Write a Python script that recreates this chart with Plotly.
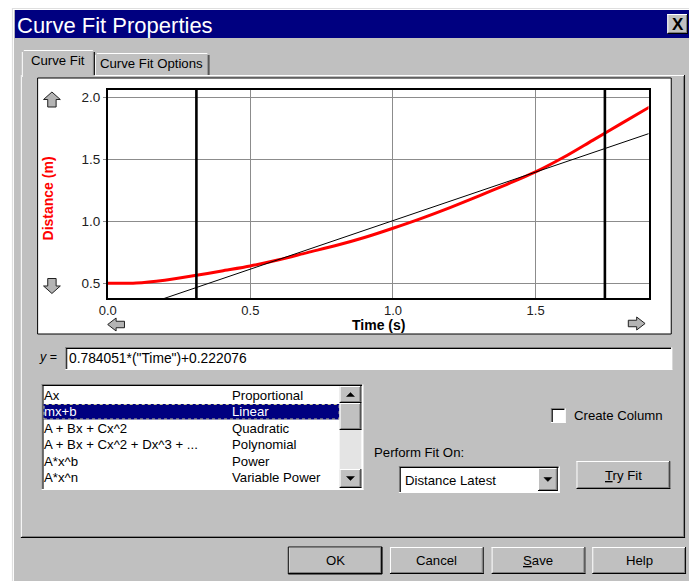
import plotly.graph_objects as go

W, H = 689, 581

# ---------------- data ----------------
time_s = [0.0, 0.1, 0.2, 0.3, 0.4, 0.5, 0.6, 0.7, 0.8, 0.9,
          1.0, 1.1, 1.2, 1.3, 1.4, 1.5, 1.6, 1.7, 1.8, 1.9]
distance_m = [0.500, 0.502, 0.525, 0.560, 0.600, 0.640, 0.690, 0.748, 0.805, 0.870,
              0.945, 1.025, 1.112, 1.205, 1.300, 1.400, 1.520, 1.655, 1.790, 1.925]
fit_time = [0.0, 1.9]
fit_distance = [0.222, 1.712]
cursor_time = [0.311, 1.743]
cursor_distance = [0.565, 1.716]
x_ticks = [0.0, 0.5, 1.0, 1.5]
x_tick_labels = ["0.0", "0.5", "1.0", "1.5"]
y_ticks = [0.5, 1.0, 1.5, 2.0]
y_tick_labels = ["0.5", "1.0", "1.5", "2.0"]
x_range = [0.0, 1.896]
y_range = [0.381, 2.062]

fit_models = ["Ax", "mx+b", "A + Bx + Cx^2", "A + Bx + Cx^2 + Dx^3 + ...", "A*x^b", "A*x^n"]
fit_names = ["Proportional", "Linear", "Quadratic", "Polynomial", "Power", "Variable Power"]
selected_model = 1
equation = '0.784051*("Time")+0.222076'
column_choice = "Distance Latest"
bottom_buttons = ["OK", "Cancel", "<u>S</u>ave", "Help"]

# ---------------- styling ----------------
GREY = "#c0c0c0"
DARK = "#808080"
NAVY = "#000080"
UI = "Liberation Sans, Arial, sans-serif"
SANS = "Liberation Sans, Arial, sans-serif"
UIS = 13.2

shapes = []
annos = []


def px(x):
    return x / W


def py(y):
    return 1 - y / H


def rect(x0, y0, x1, y1, fill=None, line=None, lw=1, layer="below"):
    shapes.append(dict(type="rect", xref="paper", yref="paper",
                       x0=px(x0), x1=px(x1), y0=py(y1), y1=py(y0),
                       fillcolor=fill or "rgba(0,0,0,0)",
                       line=dict(color=line or "rgba(0,0,0,0)", width=lw if line else 0),
                       layer=layer))


def hline(x0, x1, y, color, lw=1):
    shapes.append(dict(type="line", xref="paper", yref="paper",
                       x0=px(x0), x1=px(x1), y0=py(y), y1=py(y),
                       line=dict(color=color, width=lw), layer="below"))


def vline(x, y0, y1, color, lw=1):
    shapes.append(dict(type="line", xref="paper", yref="paper",
                       x0=px(x), x1=px(x), y0=py(y0), y1=py(y1),
                       line=dict(color=color, width=lw), layer="below"))


def poly(points, fill, line, lw=1):
    d = "M " + " L ".join(f"{px(x):.5f},{py(y):.5f}" for x, y in points) + " Z"
    shapes.append(dict(type="path", xref="paper", yref="paper", path=d,
                       fillcolor=fill, line=dict(color=line, width=lw), layer="below"))


def raised(x0, y0, x1, y1, fill=GREY):
    rect(x0, y0, x1, y1, fill)
    hline(x0, x1, y0 + 0.5, "white")
    vline(x0 + 0.5, y0, y1, "white")
    hline(x0, x1, y1 - 0.5, "black")
    vline(x1 - 0.5, y0, y1, "black")
    hline(x0 + 1, x1 - 1, y1 - 1.5, DARK)
    vline(x1 - 1.5, y0 + 1, y1 - 1, DARK)


def sunken(x0, y0, x1, y1, fill="white"):
    rect(x0, y0, x1, y1, fill)
    hline(x0, x1, y0 + 0.5, DARK)
    vline(x0 + 0.5, y0, y1, DARK)
    hline(x0 + 1, x1 - 1, y0 + 1.5, "black")
    vline(x0 + 1.5, y0 + 1, y1 - 1, "black")
    hline(x0, x1, y1 - 0.5, "white")
    vline(x1 - 0.5, y0, y1, "white")


def text(x, y, s, size=UIS, color="black", anchor="left", family=UI, angle=0):
    annos.append(dict(x=px(x), y=py(y), xref="paper", yref="paper", text=s,
                      showarrow=False, xanchor=anchor, yanchor="middle",
                      textangle=angle, borderpad=0,
                      font=dict(family=family, size=size, color=color)))


def block_arrow(cx, cy, direction, w=17, h=15):
    hw, hh = w / 2, h / 2
    sw = w / 4
    if direction in ("up", "down"):
        s = -1 if direction == "up" else 1
        pts = [(cx, cy + s * hh), (cx + hw, cy), (cx + sw, cy), (cx + sw, cy - s * hh),
               (cx - sw, cy - s * hh), (cx - sw, cy), (cx - hw, cy)]
    else:
        s = -1 if direction == "left" else 1
        hw2 = 17 / 2
        hh2 = 13 / 2
        sw2 = hh2 / 2
        pts = [(cx + s * hw2, cy), (cx, cy + hh2), (cx, cy + sw2), (cx - s * hw2, cy + sw2),
               (cx - s * hw2, cy - sw2), (cx, cy - sw2), (cx, cy - hh2)]
    poly(pts, "#b4b4b4", "#202020", 1)


def tri(cx, cy, direction, size=4):
    if direction == "up":
        pts = [(cx, cy - size / 2), (cx + size, cy + size / 2), (cx - size, cy + size / 2)]
    else:
        pts = [(cx, cy + size / 2), (cx + size, cy - size / 2), (cx - size, cy - size / 2)]
    poly(pts, "black", "black", 0.5)


# ---------------- dialog frame ----------------
rect(3, 8, W, H, GREY)
hline(3, W, 8.5, "#dfdfdf")
vline(3.5, 8, H, "#dfdfdf")
hline(4, W, 9.5, "white")
vline(4.5, 9, H, "white")
rect(6, 10, W, 38, NAVY)
text(7, 25, "Curve Fit Properties", size=22, color="white", family=SANS)
raised(667, 14, 688, 34)
text(677.5, 24, "<b>X</b>", size=17, anchor="center", family=SANS)

# ---------------- tab control ----------------
rect(12, 75, 685, 538, GREY)
hline(86, 685, 75.5, "white")
vline(12.5, 75, 538, "white")
hline(12, 685, 537.5, "black")
vline(684.5, 75, 538, "black")
hline(13, 684, 536.5, DARK)
vline(683.5, 76, 537, DARK)
# second tab
rect(87, 53, 203, 75, GREY)
hline(89, 201, 53.5, "white")
vline(87.5, 55, 75, "white")
vline(202.5, 55, 75, "black")
vline(201.5, 55, 75, DARK)
text(144.5, 63.5, "Curve Fit Options", anchor="center")
# selected tab
rect(13, 50, 87, 77, GREY)
hline(15, 85, 50.5, "white")
vline(13.5, 52, 77, "white")
vline(86.5, 52, 75, "black")
vline(85.5, 52, 75, DARK)
text(50, 61, "Curve Fit", anchor="center")

# chart box
rect(29, 78, 671, 334, "white", "black", 1)

# equation row
text(29, 357, "<i>y</i> =", size=12.5)
sunken(57, 347, 672, 370)
text(60, 358.5, equation, size=13.8)

# list box
sunken(33, 384, 359, 490)
rect(35, 404, 335, 419.5, NAVY)
rect(35.5, 404.5, 334.5, 419, None, "#c8c890", 1)
shapes[-1]["line"]["dash"] = "dot"
row0, step = 395, 16.5
for i, (m, n) in enumerate(zip(fit_models, fit_names)):
    col = "white" if i == selected_model else "black"
    text(34, row0 + i * step, m, color=col)
    text(225, row0 + i * step, n, color=col)
# scrollbar
rect(335, 386, 357, 488, "#e4e4e4")
raised(335, 386, 357, 403)
tri(346, 394.5, "up")
raised(335, 403, 357, 430)
raised(335, 469, 357, 488)
tri(346, 478.5, "down")

# check box
sunken(549, 408, 564, 423)
text(571, 415, "Create Column")

# perform fit
text(369, 452, "Perform Fit On:")
sunken(395, 466, 558, 493)
text(400, 480, column_choice)
raised(536, 468, 556, 491)
tri(546, 479.5, "down")

raised(575, 461, 670, 489)
text(622.5, 475, "<u>T</u>ry Fit", anchor="center")

# bottom buttons
bx = [283, 386, 489, 591]
for x0, lab in zip(bx, bottom_buttons):
    raised(x0, 547, x0 + 95, 574)
    text(x0 + 47.5, 560.5, lab, anchor="center")
rect(283, 547, 378, 574, None, "black", 1)

# chart arrows
block_arrow(43.5, 99.5, "up")
block_arrow(43.5, 286, "down")
block_arrow(108.5, 324.5, "left")
block_arrow(636, 323.5, "right")

# axis titles
text(374, 325, "<b>Time (s)</b>", size=14, anchor="center", family=SANS)
text(40, 198, "<b>Distance (m)</b>", size=14, color="#ff0000", anchor="center", family=SANS, angle=-90)

# cursors (data coordinates)
for ct, cd in zip(cursor_time, cursor_distance):
    shapes.append(dict(type="line", xref="x", yref="y domain", x0=ct, x1=ct, y0=0, y1=1,
                       line=dict(color="black", width=2.6), layer="above"))
    shapes.append(dict(type="rect", xref="x", yref="y", x0=ct, x1=ct, y0=cd, y1=cd,
                       line=dict(color="#00e0e0", width=3), layer="above"))

fig = go.Figure()
fig.add_trace(go.Scatter(x=time_s, y=distance_m, mode="lines",
                         line=dict(color="#ff0000", width=3, shape="spline", smoothing=0.8),
                         hoverinfo="skip"))
fig.add_trace(go.Scatter(x=fit_time, y=fit_distance, mode="lines",
                         line=dict(color="black", width=1), hoverinfo="skip"))

fig.update_layout(
    width=W, height=H, margin=dict(l=0, r=0, t=0, b=0),
    paper_bgcolor="white", plot_bgcolor="rgba(0,0,0,0)",
    showlegend=False, shapes=shapes, annotations=annos,
    xaxis=dict(domain=[px(100), px(648)], range=x_range, tickvals=x_ticks, ticktext=x_tick_labels,
               showgrid=True, gridcolor="#8c8c8c", gridwidth=1, zeroline=False,
               showline=True, mirror=True, linecolor="black", linewidth=1.5, ticks="",
               tickfont=dict(family=SANS, size=13, color="#202020"), fixedrange=True),
    yaxis=dict(domain=[py(298), py(90)], range=y_range, tickvals=y_ticks, ticktext=y_tick_labels,
               showgrid=True, gridcolor="#8c8c8c", gridwidth=1, zeroline=False,
               showline=True, mirror=True, linecolor="black", linewidth=1.5,
               ticks="outside", ticklen=3, tickcolor="#8c8c8c",
               tickfont=dict(family=SANS, size=13.5, color="#202020"), fixedrange=True),
)

fig.write_html("out.html", config={"displayModeBar": False},
               post_script="document.body.style.margin='0';document.body.style.overflow='hidden';")
